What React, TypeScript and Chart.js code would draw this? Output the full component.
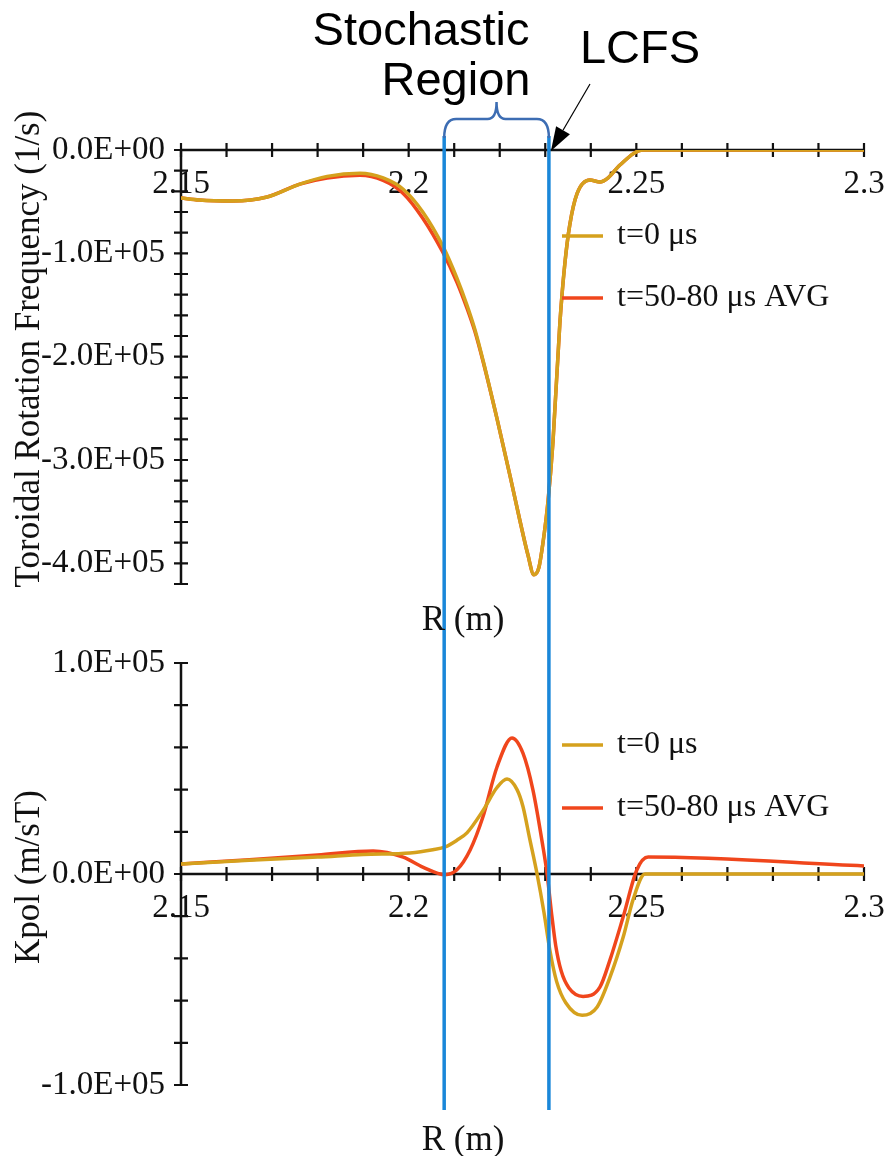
import React, { useEffect, useRef } from 'react';
import { Chart, registerables } from 'chart.js';

Chart.register(...registerables);

// ---------- data ----------
const xMin = 2.15;
const xMax = 2.3;
const xTickValues = [2.15, 2.2, 2.25, 2.3];
const xTickLabels = ['2.15', '2.2', '2.25', '2.3'];

const topYTickValues = [0, -100000, -200000, -300000, -400000];
const topYTickLabels = ['0.0E+00', '-1.0E+05', '-2.0E+05', '-3.0E+05', '-4.0E+05'];
const botYTickValues = [100000, 0, -100000];
const botYTickLabels = ['1.0E+05', '0.0E+00', '-1.0E+05'];

const seriesLabels = ['t=0 μs', 't=50-80 μs AVG'];
const seriesColors = ['#d5a11d', '#f0461c'];

// Toroidal rotation frequency (1/s)
const topR = [2.150, 2.154, 2.1614, 2.1689, 2.1761, 2.1821, 2.1893, 2.1944, 2.1988, 2.2031, 2.2075, 2.2106, 2.2128, 2.2145, 2.2163, 2.2194, 2.2223, 2.2245, 2.2262, 2.2275, 2.2286, 2.2295, 2.2306, 2.2317, 2.2332, 2.2343, 2.2354, 2.2370, 2.2398, 2.2420, 2.2438, 2.2464, 2.2515, 2.2700, 2.3000];
const topV0 = [-46500, -48500, -49400, -45500, -33000, -25500, -22500, -27000, -38000, -60000, -93000, -124000, -150000, -173000, -203000, -260000, -316000, -360000, -392000, -411000, -404000, -380000, -340000, -282000, -168000, -110000, -72000, -42000, -29000, -31000, -27000, -14500, 0, 0, 0];
const topVAvg = [-46500, -48500, -49400, -45500, -33000, -27000, -24500, -29500, -42000, -66000, -99000, -128000, -153000, -175000, -204000, -260000, -316000, -360000, -392000, -411000, -404000, -380000, -340000, -282000, -168000, -110000, -72000, -42000, -29000, -31000, -27000, -14500, 0, 0, 0];

// Kpol (m/sT)
const botR0 = [2.150, 2.165, 2.180, 2.190, 2.2003, 2.2053, 2.2080, 2.2106, 2.2128, 2.2163, 2.2194, 2.2216, 2.2238, 2.2251, 2.2266, 2.2282, 2.2297, 2.2310, 2.2325, 2.2345, 2.2381, 2.2414, 2.2442, 2.2471, 2.2493, 2.2519, 2.2700, 2.3000];
const botV0 = [4700, 6500, 8000, 9300, 10000, 11500, 12800, 16000, 19500, 30000, 41000, 45000, 40000, 32000, 16500, 0, -18000, -36000, -51000, -61000, -67000, -63000, -49000, -30000, -12000, 0, 0, 0];
const botRAvg = [2.150, 2.165, 2.180, 2.1922, 2.1988, 2.2031, 2.2080, 2.2106, 2.2135, 2.2163, 2.2194, 2.2227, 2.2251, 2.2273, 2.2295, 2.2304, 2.2314, 2.2323, 2.2335, 2.2352, 2.2383, 2.2420, 2.2442, 2.2471, 2.2501, 2.2526, 2.3000];
const botVAvg = [4700, 6800, 9000, 10900, 8000, 3300, -300, 2000, 11400, 27000, 50700, 64500, 57300, 39800, 12800, 0, -19000, -34000, -46000, -54000, -58000, -53600, -40800, -20400, 1900, 8000, 3800];

const stochasticStart = 2.2078;
const lcfsR = 2.2308;
const annotationTexts = ['Stochastic', 'Region', 'LCFS'];
const topYTitle = 'Toroidal Rotation Frequency (1/s)';
const botYTitle = 'Kpol (m/sT)';
const xTitle = 'R (m)';

// ---------- styling ----------
const SERIF = '"Liberation Serif", "Times New Roman", serif';
const SANS = '"Liberation Sans", Arial, sans-serif';
const TICK_SIZE = 33;
const TITLE_SIZE = 35;
const LEGEND_SIZE = 32;
const W = 887;
const BLUE = '#1a87d9';
const BRACE = '#3d6db3';

function near(a: number, b: number) {
  return Math.abs(a - b) < 1e-6;
}

function xLabel(v: number) {
  const i = xTickValues.findIndex((t) => near(t, v));
  return i >= 0 ? xTickLabels[i] : '';
}

function yLabelFactory(vals: number[], labels: string[]) {
  return (v: number) => {
    const i = vals.findIndex((t) => Math.abs(t - v) < 1);
    return i >= 0 ? labels[i] : '';
  };
}

type DecorOpts = {
  key: string;
  yTitle: string;
  yTitleY: number;
  xTitleY: number;
  legendY: number[];
  blueTop: number;
  blueBottom: number;
  annotations: boolean;
};

function makeDecor(o: DecorOpts) {
  return {
    id: 'decor_' + o.key,
    beforeDatasetsDraw(chart: any) {
      const ctx = chart.ctx;
      const xs = chart.scales.x;
      const ys = chart.scales.y;
      const y0 = ys.getPixelForValue(0);
      ctx.save();
      ctx.strokeStyle = '#111';
      ctx.lineWidth = 2.5;
      ctx.beginPath();
      ctx.moveTo(xs.left, y0);
      ctx.lineTo(xs.right, y0);
      ctx.moveTo(xs.left, ys.top);
      ctx.lineTo(xs.left, ys.bottom);
      ctx.stroke();
      ctx.lineWidth = 2.2;
      ctx.beginPath();
      xs.ticks.forEach((t: any) => {
        const px = xs.getPixelForValue(t.value);
        ctx.moveTo(px, y0 - 7);
        ctx.lineTo(px, y0 + 7);
      });
      ys.ticks.forEach((t: any) => {
        const py = ys.getPixelForValue(t.value);
        ctx.moveTo(xs.left - 7, py);
        ctx.lineTo(xs.left + 7, py);
      });
      ctx.stroke();
      ctx.restore();
    },
    afterDatasetsDraw(chart: any) {
      const ctx = chart.ctx;
      const xs = chart.scales.x;
      const ys = chart.scales.y;
      const L = xs.getPixelForValue(stochasticStart);
      const R = xs.getPixelForValue(lcfsR);
      ctx.save();
      ctx.strokeStyle = BLUE;
      ctx.lineWidth = 3.5;
      ctx.beginPath();
      ctx.moveTo(L, o.blueTop);
      ctx.lineTo(L, o.blueBottom);
      ctx.moveTo(R, o.blueTop);
      ctx.lineTo(R, o.blueBottom);
      ctx.stroke();

      if (o.annotations) {
        const M = (L + R) / 2;
        const yb = 119;
        ctx.strokeStyle = BRACE;
        ctx.lineWidth = 2.5;
        ctx.beginPath();
        ctx.moveTo(L, o.blueTop + 2);
        ctx.quadraticCurveTo(L, yb, L + 12, yb);
        ctx.lineTo(M - 9, yb);
        ctx.quadraticCurveTo(M, yb, M, 102);
        ctx.quadraticCurveTo(M, yb, M + 9, yb);
        ctx.lineTo(R - 12, yb);
        ctx.quadraticCurveTo(R, yb, R, o.blueTop + 2);
        ctx.stroke();

        // arrow to LCFS
        const y0 = ys.getPixelForValue(0);
        const tipX = R + 2;
        const tipY = y0 + 1;
        const tailX = 590;
        const tailY = 84;
        const ang = Math.atan2(tipY - tailY, tipX - tailX);
        const hl = 24;
        const hw = 8;
        const bx = tipX - hl * Math.cos(ang);
        const by = tipY - hl * Math.sin(ang);
        ctx.strokeStyle = '#000';
        ctx.lineWidth = 1.2;
        ctx.beginPath();
        ctx.moveTo(tailX, tailY);
        ctx.lineTo(bx, by);
        ctx.stroke();
        ctx.fillStyle = '#000';
        ctx.beginPath();
        ctx.moveTo(tipX, tipY);
        ctx.lineTo(bx + hw * Math.sin(ang), by - hw * Math.cos(ang));
        ctx.lineTo(bx - hw * Math.sin(ang), by + hw * Math.cos(ang));
        ctx.closePath();
        ctx.fill();

        ctx.fillStyle = '#000';
        ctx.font = '47px ' + SANS;
        ctx.textAlign = 'center';
        ctx.textBaseline = 'alphabetic';
        ctx.fillText(annotationTexts[0], 421, 45);
        ctx.fillText(annotationTexts[1], 456, 95);
        ctx.fillText(annotationTexts[2], 640, 63);
      }
      ctx.restore();
    },
    afterDraw(chart: any) {
      const ctx = chart.ctx;
      ctx.save();
      ctx.fillStyle = '#111';
      ctx.font = TITLE_SIZE + 'px ' + SERIF;
      ctx.textAlign = 'center';
      ctx.textBaseline = 'middle';
      // x title
      ctx.fillText(xTitle, 463, o.xTitleY);
      // y title
      ctx.save();
      ctx.translate(30, o.yTitleY);
      ctx.rotate(-Math.PI / 2);
      ctx.fillText(o.yTitle, 0, 0);
      ctx.restore();
      // legend
      ctx.font = LEGEND_SIZE + 'px ' + SERIF;
      ctx.textAlign = 'left';
      chart.data.datasets.forEach((ds: any, i: number) => {
        const y = o.legendY[i];
        ctx.strokeStyle = ds.borderColor;
        ctx.lineWidth = 3.5;
        ctx.beginPath();
        ctx.moveTo(562, y);
        ctx.lineTo(603, y);
        ctx.stroke();
        ctx.fillStyle = '#111';
        ctx.fillText(ds.label, 617, y);
      });
      ctx.restore();
    },
  };
}

function buildConfig(
  datasets: any[],
  yMin: number,
  yMax: number,
  yLabelFn: (v: number) => string,
  padTop: number,
  padBottom: number,
  decor: any
) {
  return {
    type: 'line',
    data: { datasets },
    options: {
      animation: false,
      responsive: false,
      devicePixelRatio: 1,
      layout: {
        autoPadding: false,
        padding: { top: padTop, bottom: padBottom, left: 0, right: W - 864 },
      },
      plugins: {
        legend: { display: false },
        tooltip: { enabled: false },
        title: { display: false },
      },
      elements: {
        point: { radius: 0 },
        line: { borderWidth: 3.5, cubicInterpolationMode: 'monotone' },
      },
      scales: {
        x: {
          type: 'linear',
          axis: 'x',
          min: xMin,
          max: xMax,
          position: { y: 0 },
          grid: { display: false, drawTicks: false },
          border: { display: false },
          afterFit: (s: any) => {
            s.paddingLeft = 0;
            s.paddingRight = 0;
            s.paddingTop = 0;
            s.paddingBottom = 0;
          },
          ticks: {
            stepSize: 0.01,
            autoSkip: false,
            maxRotation: 0,
            padding: 15,
            color: '#111',
            font: { family: SERIF, size: TICK_SIZE },
            callback: (v: any) => xLabel(Number(v)),
          },
        },
        y: {
          type: 'linear',
          min: yMin,
          max: yMax,
          position: 'left',
          grid: { display: false, drawTicks: false },
          border: { display: false },
          afterFit: (s: any) => {
            s.width = 181;
            s.paddingLeft = 0;
            s.paddingRight = 0;
            s.paddingTop = 0;
            s.paddingBottom = 0;
          },
          ticks: {
            stepSize: 20000,
            autoSkip: false,
            padding: 16,
            color: '#111',
            font: { family: SERIF, size: TICK_SIZE },
            callback: (v: any) => yLabelFn(Number(v)),
          },
        },
      },
    },
    plugins: [decor],
  };
}

function toPoints(xs: number[], ys: number[]) {
  return xs.map((x, i) => ({ x, y: ys[i] }));
}

export default function App() {
  const topRef = useRef<HTMLCanvasElement | null>(null);
  const botRef = useRef<HTMLCanvasElement | null>(null);

  useEffect(() => {
    const topDatasets = [
      { label: seriesLabels[0], data: toPoints(topR, topV0), borderColor: seriesColors[0], backgroundColor: seriesColors[0], fill: false },
      { label: seriesLabels[1], data: toPoints(topR, topVAvg), borderColor: seriesColors[1], backgroundColor: seriesColors[1], fill: false },
    ];
    const botDatasets = [
      { label: seriesLabels[0], data: toPoints(botR0, botV0), borderColor: seriesColors[0], backgroundColor: seriesColors[0], fill: false },
      { label: seriesLabels[1], data: toPoints(botRAvg, botVAvg), borderColor: seriesColors[1], backgroundColor: seriesColors[1], fill: false },
    ];

    const topChart = new Chart(
      topRef.current as HTMLCanvasElement,
      buildConfig(
        topDatasets,
        -420000,
        0,
        yLabelFactory(topYTickValues, topYTickLabels),
        150,
        640 - 584,
        makeDecor({
          key: 'top',
          yTitle: topYTitle,
          yTitleY: 349,
          xTitleY: 621,
          legendY: [236, 298],
          blueTop: 136,
          blueBottom: 640,
          annotations: true,
        })
      ) as any
    );
    const botChart = new Chart(
      botRef.current as HTMLCanvasElement,
      buildConfig(
        botDatasets,
        -100000,
        100000,
        yLabelFactory(botYTickValues, botYTickLabels),
        663 - 640,
        516 - (1085 - 640),
        makeDecor({
          key: 'bot',
          yTitle: botYTitle,
          yTitleY: 877 - 640,
          xTitleY: 1141 - 640,
          legendY: [745 - 640, 808 - 640],
          blueTop: 0,
          blueBottom: 1110 - 640,
          annotations: false,
        })
      ) as any
    );
    return () => {
      topChart.destroy();
      botChart.destroy();
    };
  }, []);

  return (
    <div style={{ position: 'absolute', left: 0, top: 0, width: W, height: 1156, background: '#fff' }}>
      <canvas ref={topRef} width={W} height={640} style={{ position: 'absolute', left: 0, top: 0, width: W, height: 640 }} />
      <canvas ref={botRef} width={W} height={516} style={{ position: 'absolute', left: 0, top: 640, width: W, height: 516 }} />
    </div>
  );
}
